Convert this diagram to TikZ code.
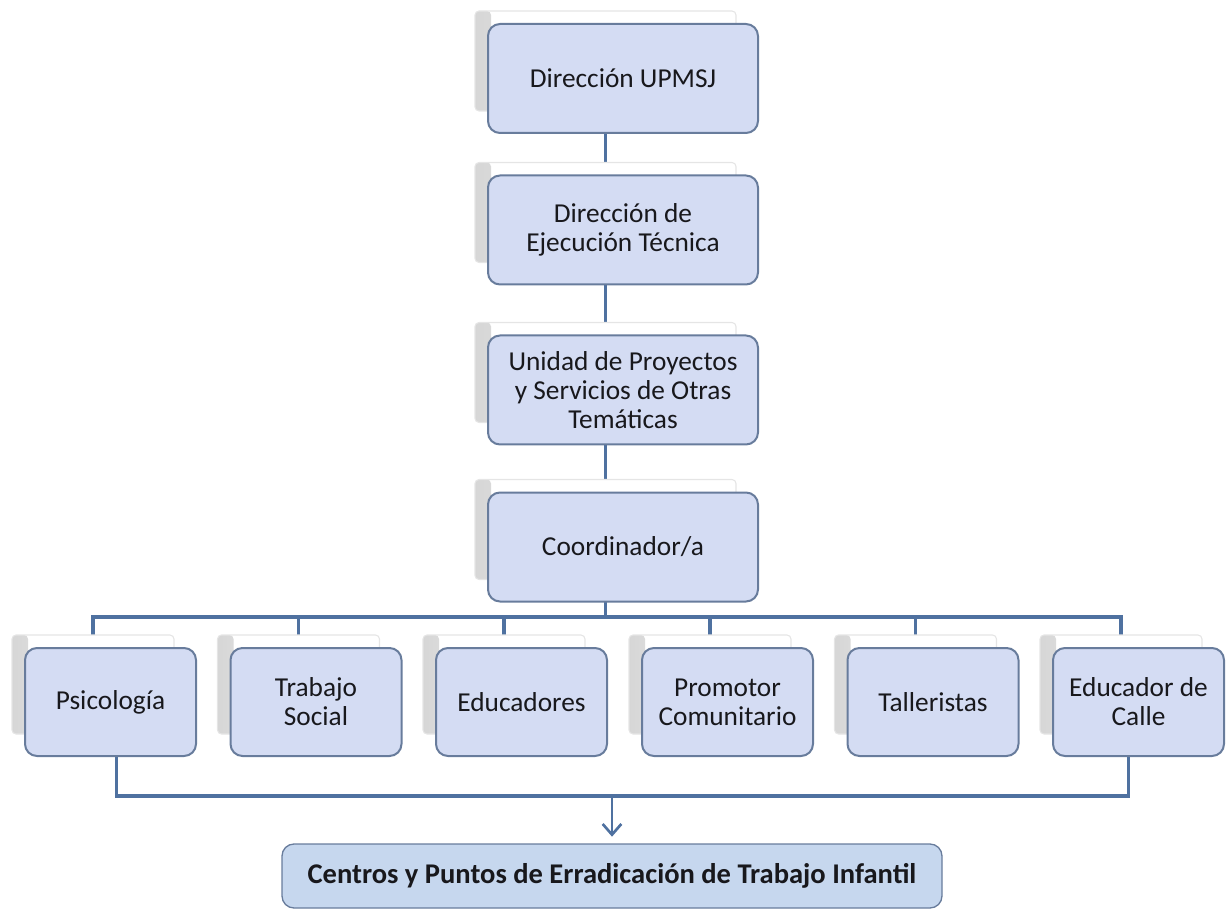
\documentclass[tikz,border=0pt]{standalone}
\usepackage{fontspec}
\setmainfont{Carlito}
\usetikzlibrary{arrows.meta,backgrounds,calc}

\definecolor{boxfill}{RGB}{212,220,243}
\definecolor{boxline}{RGB}{104,124,156}
\definecolor{linkblue}{RGB}{79,113,160}
\definecolor{basefill}{RGB}{198,215,238}
\definecolor{inktext}{RGB}{24,24,28}

\tikzset{
  card/.style={fill=white, draw=black!10, line width=0.8pt, rounded corners=3pt,
    inner sep=0pt,
    path picture={\shade[left color=black!16, right color=white, shading angle=90]
      (path picture bounding box.north west) rectangle
      ([xshift=12pt]path picture bounding box.south west);}},
  frontbox/.style={fill=boxfill, draw=boxline, line width=1.5pt, rounded corners=9pt,
    align=center, inner sep=0pt, text=inktext,
    font=\fontsize{20.5}{21.75}\selectfont},
  headcard/.style={card, minimum width=195.75pt, minimum height=75pt},
  headbox/.style={frontbox, minimum width=202.5pt, minimum height=81.75pt},
  staffcard/.style={card, minimum width=121.5pt, minimum height=74.25pt},
  staffbox/.style={frontbox, minimum width=128.25pt, minimum height=81pt},
  basebox/.style={fill=basefill, draw=boxline, line width=1pt, rounded corners=9pt,
    inner sep=0pt, text=inktext, minimum width=495pt, minimum height=48pt,
    font=\fontsize{21.4}{22}\selectfont\bfseries},
  link/.style={draw=linkblue, line width=2.4pt},
  downlink/.style={draw=linkblue, line width=2pt,
    -{Straight Barb[length=8pt,width=14pt,line width=2pt]}, shorten >=5pt}
}

\begin{document}
\begin{tikzpicture}[x=0.75pt,y=0.75pt,yscale=-1,xscale=1]

\useasboundingbox (0,0) rectangle (1227,912);

% Back cards
\node[headcard] (dirB) at (605.5,61) {};
\node[headcard] (ejeB) at (605.5,212.5) {};
\node[headcard] (uniB) at (605.5,372.5) {};
\node[headcard] (cooB) at (605.5,529.5) {};
\node[staffcard] (psiB) at (93,684.5) {};
\node[staffcard] (traB) at (298.5,684.5) {};
\node[staffcard] (eduB) at (504,684.5) {};
\node[staffcard] (proB) at (710,684.5) {};
\node[staffcard] (talB) at (915.5,684.5) {};
\node[staffcard] (calB) at (1121,684.5) {};

% Text Node
\node[headbox] (dir) at (623,78.5) {Dirección UPMSJ};
% Text Node
\node[headbox] (eje) at (623,230) {Dirección de\\Ejecución Técnica};
% Text Node
\node[headbox] (uni) at (623,390) {Unidad de Proyectos\\y Servicios de Otras\\Temáticas};
% Text Node
\node[headbox] (coo) at (623,547) {Coordinador/a};

% Text Node
\node[staffbox] (psi) at (110.5,702) {Psicología};
% Text Node
\node[staffbox] (tra) at (316,702) {Trabajo\\Social};
% Text Node
\node[staffbox] (edu) at (521.5,702) {Educadores};
% Text Node
\node[staffbox] (pro) at (727.5,702) {Promotor\\Comunitario};
% Text Node
\node[staffbox] (tal) at (933,702) {Talleristas};
% Text Node
\node[staffbox] (cal) at (1138.5,702) {Educador de\\Calle};

% Text Node
\node[basebox] (base) at (612,876) {Centros y Puntos de Erradicación de Trabajo Infantil};

\coordinate (bus) at (605.5,617);
\coordinate (brk) at (612,796);

\begin{scope}[on background layer]
%Straight Lines
\draw[link] (dirB.center) -- (ejeB.center);
\draw[link] (ejeB.center) -- (uniB.center);
\draw[link] (uniB.center) -- (cooB.center);
\draw[link] (cooB.center) -- (bus);
%Straight Lines
\draw[link] (bus) -| (psiB.center);
\draw[link] (bus) -| (traB.center);
\draw[link] (bus) -| (eduB.center);
\draw[link] (bus) -| (proB.center);
\draw[link] (bus) -| (talB.center);
\draw[link] (bus) -| (calB.center);
%Straight Lines
\draw[link] ($(psi.south)+(6,0)$) |- (brk);
\draw[link] ($(cal.south)+(-10,0)$) |- (brk);
\end{scope}

%Straight Lines
\draw[downlink] (brk) -- (base.north);

\end{tikzpicture}
\end{document}
